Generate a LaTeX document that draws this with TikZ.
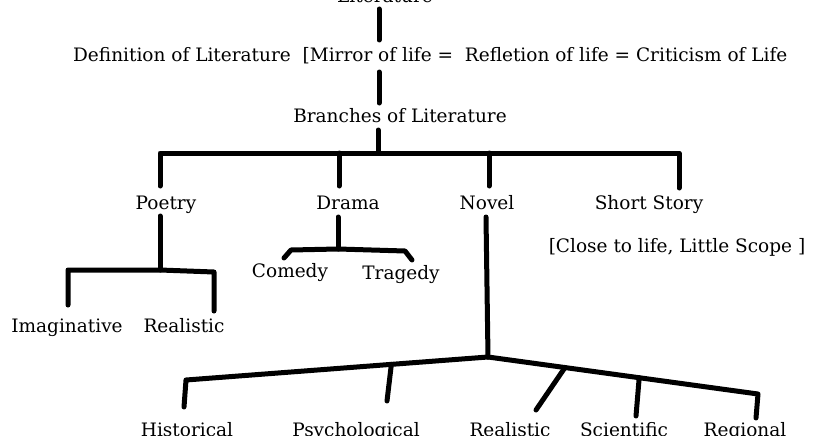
\documentclass[tikz,border=0pt]{standalone}
\usepackage{fontspec}
\setmainfont{DejaVu Serif}
\usetikzlibrary{positioning}
\tikzset{
txt/.style = {anchor=base, inner sep=0pt,
              font=\fontsize{18.5}{22}\selectfont}
}
\tikzset{
branch/.style = {line width=#1, line cap=round, line join=round},
branch/.default = 5pt % thickness of the hand drawn strokes
}

\begin{document}
\begin{tikzpicture}[x=1pt, y=-1pt]
\useasboundingbox (0,0) rectangle (832,436);

\node[txt] (literature) at (385,3) {Literature};
\node[txt] (definition) at (182,62) {Definition of Literature};
\node[txt] (mirror) at (545,62) {[Mirror of life = \ Refletion of life = Criticism of Life};
\node[txt] (branches) at (400,122) {Branches of Literature};
\node[txt] (poetry) at (166,209) {Poetry};
\node[txt] (drama) at (348,209) {Drama};
\node[txt] (novel) at (487,209) {Novel};
\node[txt] (shortStory) at (649,209) {Short Story};
\node[txt] (closeLife) at (677,252) {[Close to life, Little Scope ]};
\node[txt] (comedy) at (290,277) {Comedy};
\node[txt] (tragedy) at (401,279) {Tragedy};
\node[txt] (imaginative) at (67,332) {Imaginative};
\node[txt] (realisticP) at (184,332) {Realistic};
\node[txt] (historical) at (187,436) {Historical};
\node[txt] (psychological) at (356,436) {Psychological};
\node[txt] (realisticN) at (510,436) {Realistic};
\node[txt] (scientific) at (624,436) {Scientific};
\node[txt] (regional) at (745,436) {Regional};

% trunk
\coordinate (litEnd) at (379,9);
\coordinate (mirrorTop) at (379,40);
\coordinate (mirrorBot) at (379,72);
\coordinate (branchesTop) at (379,103);
\coordinate (branchesBot) at (378,130);
\coordinate (barMid) at (378,153);
% first level
\coordinate (barL) at (160,153);
\coordinate (barD) at (339,153);
\coordinate (barN) at (489,153);
\coordinate (barR) at (679,153);
\coordinate (poetryTop) at (160,186);
\coordinate (dramaTop) at (339,186);
\coordinate (novelTop) at (489,186);
\coordinate (storyTop) at (679,188);
% poetry
\coordinate (poetryBot) at (160,216);
\coordinate (poetryJoin) at (160,270);
\coordinate (imagCorner) at (68,270);
\coordinate (imagTop) at (68,305);
\coordinate (realCorner) at (214,272);
\coordinate (realTop) at (214,311);
% drama
\coordinate (dramaBot) at (338,217);
\coordinate (dramaJoin) at (338,249);
\coordinate (comedyCorner) at (291,250);
\coordinate (comedyTop) at (284,258);
\coordinate (tragedyCorner) at (405,251);
\coordinate (tragedyTop) at (412,260);
% novel
\coordinate (novelBot) at (486,217);
\coordinate (novelJoin) at (488,357);
\coordinate (histCorner) at (186,380);
\coordinate (histTop) at (184,407);
\coordinate (regCorner) at (758,394);
\coordinate (regTop) at (756,418);

\draw[branch] (litEnd) -- (mirrorTop);
\draw[branch] (mirrorBot) -- (branchesTop);
\draw[branch] (branchesBot) -- (barMid);
\draw[branch] (poetryTop) -- (barL) -- (barR) -- (storyTop);
\draw[branch] (barD) -- (dramaTop);
\draw[branch] (barN) -- (novelTop);
\draw[branch] (poetryBot) -- (poetryJoin);
\draw[branch] (imagTop) -- (imagCorner) -- (poetryJoin) -- (realCorner) -- (realTop);
\draw[branch] (dramaBot) -- (dramaJoin);
\draw[branch] (comedyTop) -- (comedyCorner) -- (dramaJoin) -- (tragedyCorner) -- (tragedyTop);
\draw[branch] (novelBot) -- (novelJoin);
\draw[branch] (histTop) -- (histCorner) -- (novelJoin)
  coordinate[pos=0.68] (psychCorner);
\draw[branch] (novelJoin) -- (regCorner)
  coordinate[pos=0.285] (realNCorner)
  coordinate[pos=0.56] (sciCorner) -- (regTop);
\draw[branch] (psychCorner) -- (387,401);
\draw[branch] (realNCorner) -- (536,410);
\draw[branch] (sciCorner) -- (636,416);
\end{tikzpicture}
\end{document}
